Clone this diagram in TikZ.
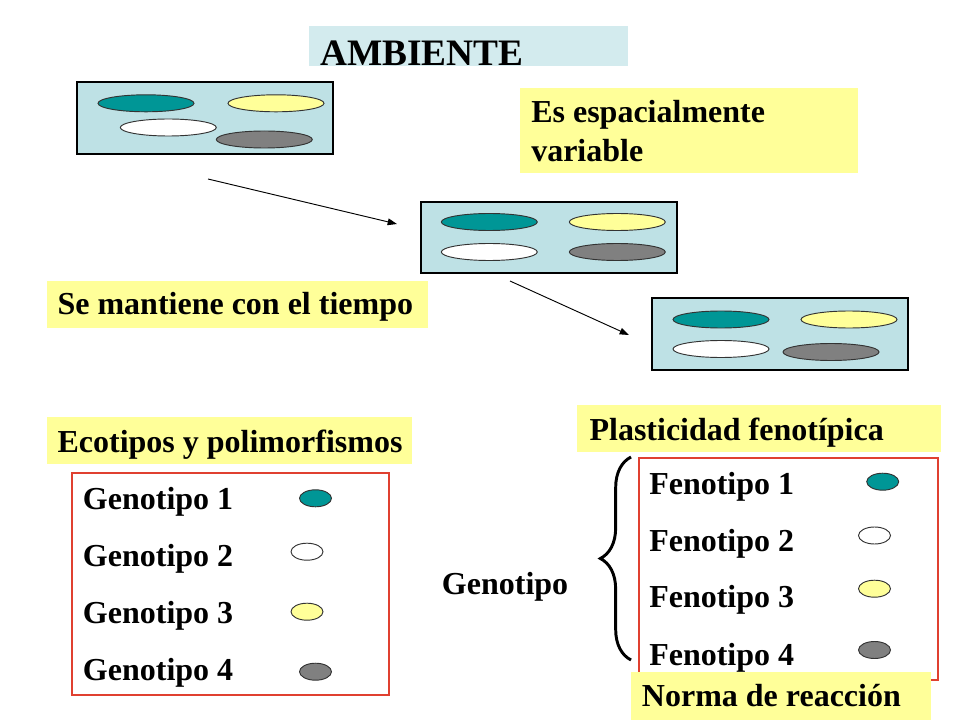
\documentclass[tikz,border=0pt]{standalone}
\usepackage{fontspec}
\setmainfont{Liberation Serif}
\usetikzlibrary{shapes.geometric,fit,arrows.meta,decorations.pathreplacing}
\definecolor{tealc}{RGB}{0,150,150}
\definecolor{yellowc}{RGB}{255,255,153}
\definecolor{grayc}{RGB}{128,128,128}
\definecolor{panelc}{RGB}{190,225,229}
\definecolor{ambc}{RGB}{211,235,238}
\definecolor{lblc}{RGB}{255,255,153}
\definecolor{redc}{RGB}{224,64,48}
\tikzset{
  lbl/.style={anchor=base west, inner sep=0pt, font=\bfseries\fontsize{24}{28}\selectfont},
  ybox/.style={fill=lblc, inner sep=0pt, draw=none},
  panel/.style={fill=panelc, draw=black, line width=0.9pt, inner sep=0pt},
  redbox/.style={draw=redc, line width=0.8pt, inner sep=0pt},
  bigell/.style={ellipse, draw=black!80, line width=0.7pt, inner sep=0pt,
    minimum width=96*0.75pt, minimum height=17*0.75pt},
  smell/.style={ellipse, draw=black!80, line width=0.7pt, inner sep=0pt,
    minimum width=32*0.75pt, minimum height=17*0.75pt},
  arr/.style={-{Triangle[length=7pt,width=5pt]}, line width=0.7pt}
}
\begin{document}
\begin{tikzpicture}[x=0.75pt,y=-0.75pt]
\useasboundingbox (0,0) rectangle (960,720);
% AMBIENTE
\node[fit={(309,26) (628,65.7)}, fill=ambc, inner sep=0pt] (ambbox) {};
\node[lbl, font=\bfseries\fontsize{28}{32}\selectfont] (amb) at (320,65.7) {AMBIENTE};
% panels
\node[panel, fit={(77,82) (333,154)}] (p1) {};
\node[bigell, fill=tealc] (p1a) at (146,103.3) {};
\node[bigell, fill=yellowc] (p1b) at (276,103.3) {};
\node[bigell, fill=white] (p1c) at (168.3,127.5) {};
\node[bigell, fill=grayc] (p1d) at (264.3,139.5) {};
\node[panel, fit={(421,202) (677,273)}] (p2) {};
\node[bigell, fill=tealc] (p2a) at (489.3,222) {};
\node[bigell, fill=yellowc] (p2b) at (617.3,222) {};
\node[bigell, fill=white] (p2c) at (489.3,252) {};
\node[bigell, fill=grayc] (p2d) at (617.3,252) {};
\node[panel, fit={(652,298) (908,370)}] (p3) {};
\node[bigell, fill=tealc] (p3a) at (721,319.5) {};
\node[bigell, fill=yellowc] (p3b) at (849,319.5) {};
\node[bigell, fill=white] (p3c) at (721,349) {};
\node[bigell, fill=grayc] (p3d) at (831,352) {};
% arrows
\coordinate (a1s) at (208,179);
\coordinate (a1e) at (397,224);
\coordinate (a2s) at (510,281);
\coordinate (a2e) at (629,335);
\draw[arr] (a1s) -- (a1e);
\draw[arr] (a2s) -- (a2e);
% yellow labels
\node[ybox, fit={(520,88) (858,173)}] (esbox) {};
\node[lbl] (es1) at (531,122.7) {Es espacialmente};
\node[lbl] (es2) at (531,161.7) {variable};
\node[ybox, fit={(47,281) (428,328)}] (sebox) {};
\node[lbl] (se) at (57.3,315) {Se mantiene con el tiempo};
\node[ybox, fit={(47,417) (412,464)}] (ecobox) {};
\node[lbl] (eco) at (57.3,452.7) {Ecotipos y polimorfismos};
\node[ybox, fit={(577,405) (941,452)}] (plbox) {};
\node[lbl] (pl) at (589.3,440.7) {Plasticidad fenotípica};
% genotipos
\node[redbox, fit={(72,473) (389,695)}] (gbox) {};
\node[lbl] (g1) at (82.7,509.3) {Genotipo 1};
\node[lbl] (g2) at (82.7,566.7) {Genotipo 2};
\node[lbl] (g3) at (82.7,623.3) {Genotipo 3};
\node[lbl] (g4) at (82.7,680) {Genotipo 4};
\node[smell, fill=tealc] (ge1) at (315.5,498.3) {};
\node[smell, fill=white] (ge2) at (307,551.7) {};
\node[smell, fill=yellowc] (ge3) at (307,611.7) {};
\node[smell, fill=grayc] (ge4) at (315.5,671.7) {};
% genotipo + brace
\node[lbl] (gen) at (441.7,594.3) {Genotipo};
\coordinate (bb) at (631,660);
\coordinate (bt) at (631,457);
\draw[decorate, decoration={brace, amplitude=23pt}, line width=2.2pt] (bb) -- (bt);
% fenotipos
\node[redbox, fit={(639,458) (938,680)}] (fbox) {};
\node[lbl] (f1) at (649,494.5) {Fenotipo 1};
\node[lbl] (f2) at (649,551.7) {Fenotipo 2};
\node[lbl] (f3) at (649,607.5) {Fenotipo 3};
\node[lbl] (f4) at (649,665) {Fenotipo 4};
\node[smell, fill=tealc] (fe1) at (882.7,481.7) {};
\node[smell, fill=white] (fe2) at (874.5,535.5) {};
\node[smell, fill=yellowc] (fe3) at (874.5,588.7) {};
\node[smell, fill=grayc] (fe4) at (874.5,650) {};
% norma
\node[ybox, fit={(631,672) (931,720)}] (nbox) {};
\node[lbl] (norma) at (641.7,706.7) {Norma de reacción};
\end{tikzpicture}
\end{document}
